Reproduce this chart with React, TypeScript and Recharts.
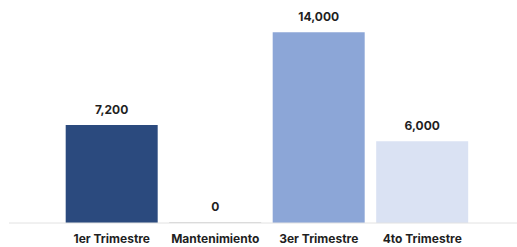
import { Bar, BarChart, Cell, LabelList, XAxis, YAxis } from "recharts"

const categories = ["1er Trimestre", "Mantenimiento", "3er Trimestre", "4to Trimestre"]
const values = [7200, 0, 14000, 6000]
const colors = ["#2b4a7e", "#d4d4d4", "#8ca6d7", "#dae2f3"]

const data = categories.map((name, i) => ({ name, value: values[i] }))

const fmt = (v: any) => Number(v).toLocaleString("en-US")

export default function App() {
  return (
    <div style={{ position: "absolute", left: 0, top: 0, background: "#fff" }}>
      <BarChart
        width={517}
        height={247}
        data={data}
        margin={{ top: 5, right: 0, bottom: 0, left: 9 }}
        barCategoryGap="5.5%"
      >
        <XAxis
          dataKey="name"
          height={24}
          padding={{ left: 51, right: 43 }}
          axisLine={{ stroke: "#e2e2e2" }}
          tickLine={false}
          tick={{ fill: "#1f1f1f", fontSize: 12, fontWeight: 700, fontFamily: "Inter", dy: 3 }}
          interval={0}
        />
        <YAxis hide domain={[0, 16000]} />
        <Bar dataKey="value" isAnimationActive={false} minPointSize={1}>
          {data.map((d, i) => (
            <Cell key={d.name} fill={colors[i]} />
          ))}
          <LabelList
            dataKey="value"
            position="top"
            offset={11}
            formatter={fmt}
            style={{ fill: "#1f1f1f", fontSize: 12, fontWeight: 700, fontFamily: "Inter" }}
          />
        </Bar>
      </BarChart>
    </div>
  )
}
